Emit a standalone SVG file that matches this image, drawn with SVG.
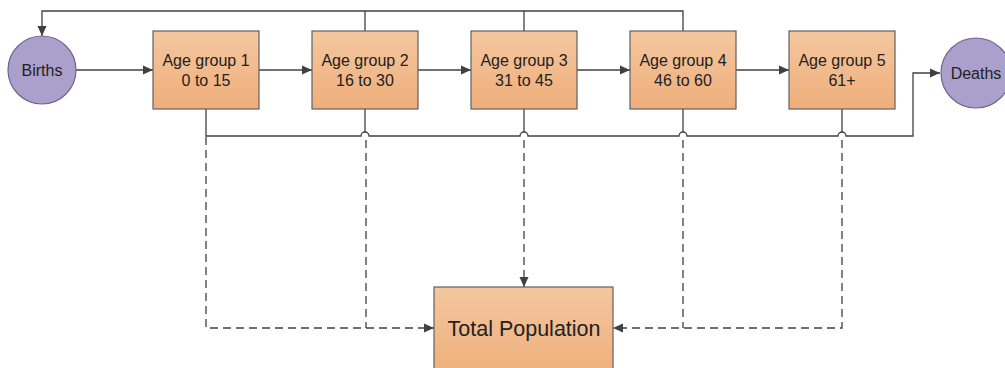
<svg xmlns="http://www.w3.org/2000/svg" width="1005" height="368" viewBox="0 0 1005 368">
<defs>
<linearGradient id="og" x1="0" y1="0" x2="0" y2="1">
<stop offset="0" stop-color="#f4c7a0"/>
<stop offset="1" stop-color="#efae7a"/>
</linearGradient>
<marker id="ah" viewBox="0 0 10 10" refX="10" refY="5" markerWidth="10" markerHeight="10" markerUnits="userSpaceOnUse" orient="auto">
<path d="M0,0.5 L10,5 L0,9.5 Z" fill="#404040"/>
</marker>
<style>
.box{fill:url(#og);stroke:#606060;stroke-width:1.2}
.circ{fill:#ab9fcc;stroke:#6e6690;stroke-width:1.2}
.t{font-family:"Liberation Sans",Arial,sans-serif;font-size:16px;fill:#222;text-anchor:middle}
.big{font-size:21.5px}
.ln{fill:none;stroke:#404040;stroke-width:1.3}
.dash{fill:none;stroke:#404040;stroke-width:1.3;stroke-dasharray:8 5}
</style>
</defs>
<g id="connectors">
<path class="ln" d="M683,31 V11 H42 V36" marker-end="url(#ah)"/>
<path class="ln" d="M365,31 V11"/>
<path class="ln" d="M524,31 V11"/>
<path class="ln" d="M76,70 H153" marker-end="url(#ah)"/>
<path class="ln" d="M259,70 H312" marker-end="url(#ah)"/>
<path class="ln" d="M418,70 H471" marker-end="url(#ah)"/>
<path class="ln" d="M577,70 H630" marker-end="url(#ah)"/>
<path class="ln" d="M736,70 H789" marker-end="url(#ah)"/>
<path class="ln" d="M206,109 V136 H361 A4,4 0 0 1 369,136 H520 A4,4 0 0 1 528,136 H679 A4,4 0 0 1 687,136 H838 A4,4 0 0 1 846,136 H913 V73 H940" marker-end="url(#ah)"/>
<path class="ln" d="M365,109 V132"/>
<path class="ln" d="M524,109 V132"/>
<path class="ln" d="M683,109 V132"/>
<path class="ln" d="M842,109 V132"/>
<path class="dash" d="M206,137 V328 H434" marker-end="url(#ah)"/>
<path class="dash" d="M366,140 V328"/>
<path class="dash" d="M524,140 V287" marker-end="url(#ah)"/>
<path class="dash" d="M842,140 V328 H613" marker-end="url(#ah)"/>
<path class="dash" d="M683,140 V328"/>
</g>
<g id="births">
<circle class="circ" cx="42" cy="70" r="34"/>
<text class="t" x="42" y="75.5">Births</text>
</g>
<g id="age1">
<rect class="box" x="153" y="31" width="106" height="78"/>
<text class="t" x="206" y="66">Age group 1</text>
<text class="t" x="206" y="86">0 to 15</text>
</g>
<g id="age2">
<rect class="box" x="312" y="31" width="106" height="78"/>
<text class="t" x="365" y="66">Age group 2</text>
<text class="t" x="365" y="86">16 to 30</text>
</g>
<g id="age3">
<rect class="box" x="471" y="31" width="106" height="78"/>
<text class="t" x="524" y="66">Age group 3</text>
<text class="t" x="524" y="86">31 to 45</text>
</g>
<g id="age4">
<rect class="box" x="630" y="31" width="106" height="78"/>
<text class="t" x="683" y="66">Age group 4</text>
<text class="t" x="683" y="86">46 to 60</text>
</g>
<g id="age5">
<rect class="box" x="789" y="31" width="106" height="78"/>
<text class="t" x="842" y="66">Age group 5</text>
<text class="t" x="842" y="86">61+</text>
</g>
<g id="deaths">
<circle class="circ" cx="976" cy="73" r="35"/>
<text class="t" x="976" y="78.5">Deaths</text>
</g>
<g id="total">
<rect class="box" x="434" y="287" width="179" height="90"/>
<text class="t big" x="524" y="335.5">Total Population</text>
</g>
</svg>
